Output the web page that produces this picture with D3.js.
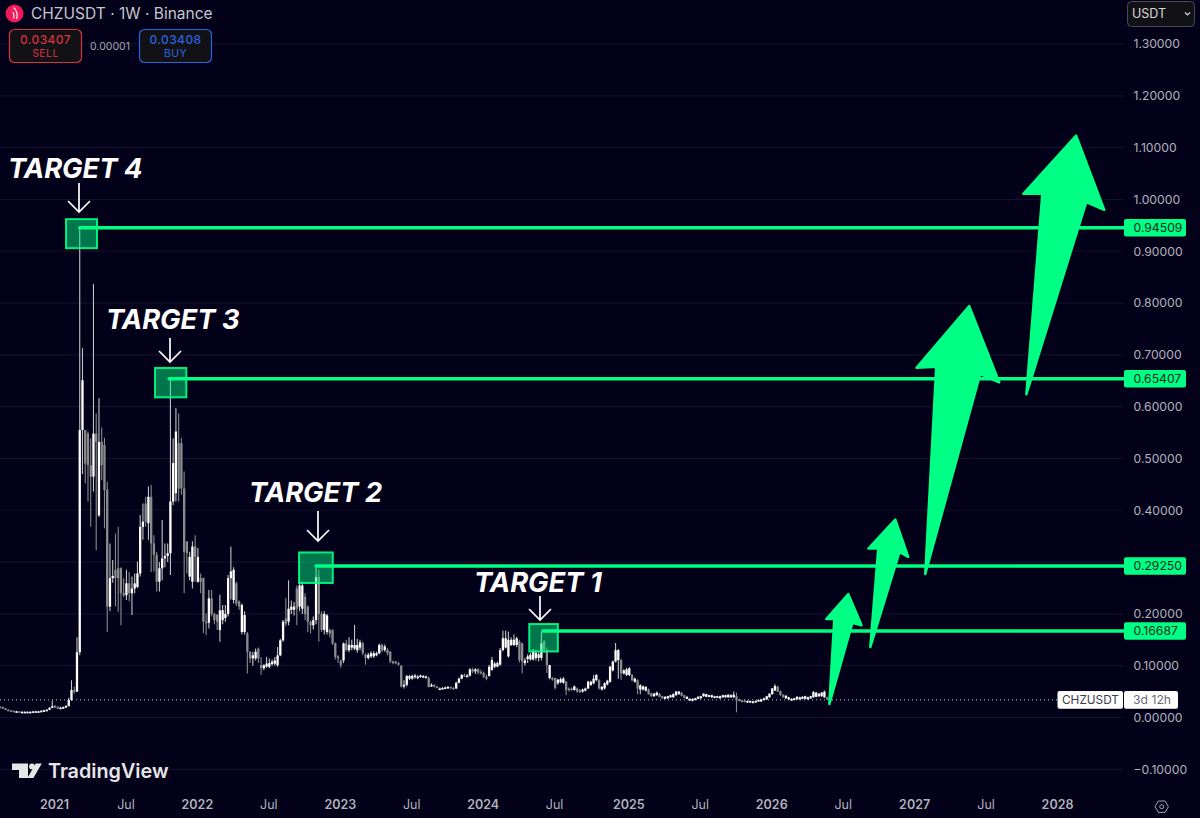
<!DOCTYPE html>
<html>
<head>
<meta charset="utf-8">
<title>CHZUSDT 1W</title>
<script src="https://cdnjs.cloudflare.com/ajax/libs/d3/7.8.5/d3.min.js"></script>
<style>
html,body{margin:0;padding:0;background:#03001a;overflow:hidden}
svg{display:block;font-family:Inter,"Noto Sans",sans-serif}
</style>
</head>
<body>
<svg id="chart" width="1200" height="818"></svg>
<script>
// Weekly CHZ/USDT candles, one value per week starting at firstWeek.
const firstWeek = "2020-08-17";
const opens = [
.021,.020,.018,.015,.014,.013,.012,.012,.011,.011,
.011,.011,.011,.012,.012,.012,.013,.014,.015,.019,
.022,.020,.019,.019,.020,.022,.034,.053,.050,.126,
.555,.555,.548,.487,.465,.548,.390,.532,.526,.440,
.214,.269,.285,.288,.288,.240,.236,.259,.240,.249,
.252,.278,.368,.413,.375,.426,.336,.314,.262,.288,
.307,.312,.317,.417,.433,.530,.529,.442,.340,.272,
.262,.330,.262,.269,.269,.185,.183,.230,.200,.198,
.169,.188,.192,.200,.269,.227,.259,.224,.165,.165,
.162,.127,.114,.114,.133,.101,.095,.098,.098,.103,
.104,.101,.120,.149,.191,.185,.208,.208,.249,.214,
.210,.233,.214,.185,.178,.188,.271,.200,.169,.165,
.169,.169,.143,.118,.110,.110,.143,.130,.135,.133,
.130,.135,.143,.121,.115,.118,.118,.120,.124,.140,
.130,.130,.127,.108,.108,.105,.100,.060,.063,.075,
.075,.078,.077,.079,.079,.078,.076,.061,.063,.060,
.056,.056,.056,.058,.059,.057,.056,.067,.075,.082,
.079,.081,.093,.089,.093,.088,.086,.079,.080,.092,
.098,.098,.102,.130,.135,.118,.140,.140,.140,.147,
.143,.105,.113,.112,.112,.115,.115,.115,.147,.130,
.076,.076,.076,.066,.068,.067,.069,.056,.056,.053,
.056,.053,.050,.052,.056,.063,.066,.072,.072,.054,
.056,.064,.069,.091,.108,.111,.111,.085,.082,.082,
.082,.069,.072,.054,.054,.052,.054,.047,.041,.043,
.046,.041,.036,.037,.039,.039,.043,.045,.048,.043,
.036,.033,.032,.034,.036,.037,.041,.040,.040,.039,
.038,.039,.037,.039,.039,.039,.039,.039,.041,.035,
.033,.033,.029,.029,.028,.030,.031,.031,.034,.035,
.039,.045,.052,.060,.051,.044,.037,.035,.033,.034,
.035,.035,.036,.036,.035,.037,.039,.040,.041,.041,
.039,.039,.035];
const closes = [
.020,.018,.015,.014,.013,.012,.012,.011,.011,.011,
.011,.011,.012,.012,.012,.013,.014,.015,.019,.022,
.020,.019,.019,.020,.022,.034,.053,.050,.126,.555,
.651,.490,.487,.465,.548,.532,.532,.487,.439,.214,
.269,.273,.269,.269,.240,.236,.259,.240,.249,.259,
.278,.368,.378,.378,.426,.336,.314,.262,.288,.307,
.312,.317,.417,.491,.552,.442,.442,.320,.317,.310,
.330,.310,.310,.262,.185,.183,.230,.200,.188,.185,
.207,.207,.200,.269,.282,.285,.220,.214,.217,.198,
.127,.114,.120,.127,.114,.095,.101,.104,.105,.108,
.110,.120,.149,.185,.181,.210,.214,.214,.210,.255,
.255,.200,.185,.178,.188,.271,.200,.169,.200,.197,
.162,.143,.117,.114,.101,.143,.130,.140,.140,.140,
.140,.145,.124,.115,.121,.124,.124,.124,.140,.130,
.137,.124,.108,.105,.105,.102,.060,.063,.080,.080,
.080,.081,.079,.081,.080,.079,.059,.063,.060,.057,
.056,.057,.058,.059,.057,.056,.067,.075,.082,.081,
.081,.093,.089,.093,.087,.087,.079,.075,.098,.111,
.104,.105,.130,.153,.153,.150,.150,.150,.153,.111,
.108,.110,.118,.121,.127,.125,.122,.143,.130,.101,
.101,.073,.057,.073,.074,.075,.053,.053,.053,.060,
.050,.049,.054,.056,.069,.069,.075,.082,.056,.059,
.066,.071,.098,.108,.130,.130,.085,.091,.093,.095,
.072,.075,.056,.062,.060,.059,.045,.041,.046,.048,
.040,.037,.040,.041,.043,.045,.050,.050,.042,.038,
.040,.036,.036,.037,.040,.041,.046,.045,.043,.043,
.041,.041,.041,.043,.043,.044,.043,.044,.033,.032,
.030,.030,.032,.032,.031,.032,.034,.035,.037,.041,
.046,.056,.061,.050,.043,.039,.042,.039,.036,.037,
.040,.039,.040,.041,.039,.041,.049,.048,.046,.048,
.050,.035,.034];
const highs = [
.022,.021,.018,.016,.014,.013,.013,.012,.012,.012,
.012,.012,.012,.013,.013,.014,.015,.016,.020,.033,
.024,.022,.021,.021,.024,.038,.072,.060,.155,.945,
.713,.555,.552,.539,.837,.587,.616,.560,.540,.455,
.336,.304,.355,.368,.290,.269,.285,.281,.272,.278,
.301,.391,.413,.426,.446,.449,.352,.320,.300,.381,
.336,.336,.654,.539,.597,.587,.540,.475,.340,.320,
.340,.352,.327,.278,.270,.201,.246,.246,.202,.200,
.237,.217,.217,.275,.330,.290,.262,.226,.220,.205,
.165,.128,.127,.133,.135,.117,.103,.117,.114,.112,
.117,.136,.152,.188,.230,.265,.226,.223,.255,.270,
.262,.240,.216,.187,.195,.2925,.285,.205,.205,.200,
.172,.170,.145,.120,.112,.145,.150,.155,.150,.179,
.152,.150,.146,.124,.125,.128,.128,.127,.143,.143,
.141,.134,.128,.110,.109,.107,.101,.072,.082,.082,
.083,.084,.082,.083,.082,.081,.079,.066,.064,.061,
.058,.059,.060,.061,.060,.059,.069,.077,.084,.085,
.084,.095,.096,.095,.095,.092,.089,.083,.102,.117,
.107,.108,.134,.168,.168,.166,.155,.160,.156,.150,
.145,.115,.122,.125,.132,.130,.126,.166,.150,.135,
.102,.078,.077,.075,.077,.078,.071,.058,.058,.062,
.058,.055,.056,.058,.071,.071,.082,.084,.074,.061,
.068,.073,.100,.110,.144,.132,.113,.093,.096,.097,
.084,.077,.074,.064,.062,.061,.056,.048,.048,.050,
.047,.042,.041,.042,.044,.047,.051,.051,.049,.044,
.041,.037,.037,.038,.041,.042,.047,.046,.044,.044,
.042,.042,.042,.044,.044,.045,.045,.050,.048,.036,
.034,.034,.033,.033,.032,.033,.035,.036,.038,.042,
.047,.057,.064,.061,.052,.045,.043,.040,.037,.038,
.041,.040,.041,.042,.040,.042,.051,.049,.047,.049,
.052,.040,.036];
const lows = [
.019,.017,.014,.013,.012,.011,.011,.011,.010,.010,
.010,.011,.011,.011,.011,.012,.012,.013,.014,.018,
.019,.018,.018,.018,.019,.021,.032,.046,.049,.120,
.470,.452,.417,.368,.436,.323,.387,.458,.365,.165,
.205,.260,.214,.204,.178,.232,.227,.224,.198,.240,
.250,.272,.343,.368,.343,.281,.282,.243,.243,.265,
.290,.300,.275,.410,.417,.417,.430,.240,.278,.265,
.249,.262,.260,.240,.163,.159,.172,.195,.180,.169,
.146,.180,.185,.195,.228,.220,.215,.208,.160,.160,
.085,.105,.100,.110,.105,.082,.091,.096,.095,.100,
.100,.098,.118,.146,.176,.178,.200,.197,.178,.205,
.200,.188,.165,.162,.170,.180,.146,.165,.160,.160,
.155,.140,.112,.105,.096,.105,.128,.126,.130,.130,
.125,.130,.120,.102,.112,.115,.115,.118,.122,.126,
.127,.120,.105,.103,.103,.100,.058,.056,.060,.072,
.073,.075,.074,.077,.077,.076,.058,.059,.058,.056,
.054,.055,.055,.056,.056,.054,.055,.066,.074,.078,
.077,.079,.086,.084,.083,.083,.076,.072,.079,.090,
.095,.097,.100,.128,.133,.116,.138,.138,.136,.106,
.085,.100,.105,.110,.110,.110,.108,.110,.125,.086,
.074,.071,.054,.063,.066,.065,.043,.050,.051,.052,
.048,.047,.048,.050,.055,.061,.064,.070,.054,.052,
.054,.062,.067,.089,.106,.075,.073,.083,.080,.080,
.070,.067,.045,.045,.052,.050,.044,.040,.040,.042,
.039,.036,.035,.036,.038,.038,.042,.044,.041,.037,
.035,.032,.031,.033,.035,.036,.040,.039,.039,.038,
.037,.038,.036,.038,.038,.038,.038,.038,.010,.031,
.029,.029,.028,.028,.027,.029,.030,.030,.033,.034,
.038,.044,.051,.049,.042,.038,.036,.034,.032,.033,
.034,.034,.035,.035,.034,.036,.038,.039,.040,.040,
.038,.034,.032];

// Grid levels and the axis labels; 0.3 sits behind the 0.29250 tag, so it has no label.
const gridLevels = [-0.1,0,0.1,0.2,0.3,0.4,0.5,0.6,0.7,0.8,0.9,1.0,1.1,1.2,1.3];
const priceTicks = [-0.1,0,0.1,0.2,0.4,0.5,0.6,0.7,0.8,0.9,1.0,1.1,1.2,1.3];
const timeTicks = ["2021-01-04","2021-07-05","2022-01-03","2022-07-04","2023-01-02","2023-07-03",
  "2024-01-01","2024-07-01","2025-01-06","2025-07-07","2026-01-05","2026-07-06","2027-01-04","2027-07-05","2028-01-03"];

// Target levels, lowest first, and the week each one is anchored at.
const targetNames = ["TARGET 1","TARGET 2","TARGET 3","TARGET 4"];
const targetPrices = [0.16687,0.29250,0.65407,0.94509];
const targetWeeks = [197.5,115,61.5,29];
const lastPrice = 0.03407;

// Projected upward arrows, vertices as [week index, price], tail first and clockwise.
const arrowOne   = [[301.8,.026],[303.6,.190],[300.7,.190],[308.7,.238],[313.5,.178],[310.2,.183]];
const arrowTwo   = [[316.7,.136],[319.6,.326],[316,.326],[325.8,.382],[330.5,.310],[327.3,.319]];
const arrowThree = [[336.7,.277],[340.7,.677],[333.5,.675],[352.7,.794],[363.6,.647],[356.7,.663]];
const arrowFour  = [[373.5,.624],[379.3,1.011],[372.4,1.011],[391.6,1.123],[401.8,.980],[395.3,.995]];

// Layout of each target's square, caption and pointer, in screen offsets.
const boxLayout = [
  {dx:-13.5,dy:-7,w:28.6,h:27.4},{dx:-17,dy:-13.5,w:33.7,h:30.5},
  {dx:-14,dy:-10.7,w:31.3,h:29.4},{dx:-13.7,dy:-8.7,w:31,h:29}];
const captionLayout = [{x:474,y:592},{x:249,y:502},{x:106,y:329},{x:8,y:178}];
const pointerLayout = [{x:540,y0:596,y1:620},{x:318,y0:511,y1:541},{x:170,y0:338,y1:362},{x:79,y0:183,y1:212}];

const GREEN = "#00ff85", BG = "#03001a", GRID = "#12102a", AXIS_TEXT = "#b2b3ba";
const plotRight = 1123;

const svg = d3.select("#chart");
svg.append("rect").attr("width",1200).attr("height",818).attr("fill",BG);

const parse = d3.utcParse("%Y-%m-%d");
const xTime = d3.scaleUtc()
  .domain([parse("2021-01-04"),parse("2028-01-03")]).range([55,1058]);
const xWeek = i => xTime(d3.utcHour.offset(parse(firstWeek), i*168));
const y = d3.scaleLinear().domain([0,1.3]).range([717.5,44]);

// Horizontal grid.
svg.append("g").selectAll("line").data(gridLevels).join("line")
  .attr("x1",0).attr("x2",plotRight)
  .attr("y1",d=>y(d)).attr("y2",d=>y(d))
  .attr("stroke",GRID).attr("stroke-width",1.2);

// Price axis.
const yAxis = svg.append("g").attr("transform",`translate(${plotRight},0)`)
  .call(d3.axisRight(y).tickValues(priceTicks).tickSize(0).tickPadding(10.5).tickFormat(d3.format(".5f")));
yAxis.select(".domain").remove();
yAxis.selectAll("text").attr("fill",AXIS_TEXT).attr("font-size",12.2).attr("font-family","Inter");

// Time axis.
const xAxis = svg.append("g").attr("transform","translate(-1,797)")
  .call(d3.axisBottom(xTime).tickValues(timeTicks.map(parse)).tickSize(0).tickPadding(3)
    .tickFormat(d=>d.getUTCMonth()===0 ? d.getUTCFullYear() : "Jul"));
xAxis.select(".domain").remove();
xAxis.selectAll("text").attr("fill",AXIS_TEXT).attr("font-size",12.5).attr("font-family","Inter")
  .attr("font-weight",d=>d.getUTCMonth()===0?600:400);

// Last price guide.
svg.append("line").attr("x1",0).attr("x2",1057).attr("y1",y(lastPrice)).attr("y2",y(lastPrice))
  .attr("stroke","#c8c8c8").attr("stroke-width",1).attr("stroke-dasharray","1 3");

// Candles.
const candles = svg.append("g").selectAll("g").data(d3.range(closes.length)).join("g");
const isUp = i => closes[i] >= opens[i];
candles.append("line")
  .attr("x1",i=>xWeek(i)).attr("x2",i=>xWeek(i))
  .attr("y1",i=>y(highs[i])).attr("y2",i=>y(lows[i]))
  .attr("stroke",i=>isUp(i)?"#c4c4c4":"#8a8a8a").attr("stroke-width",1.1);
candles.append("rect")
  .attr("x",i=>xWeek(i)-1.15).attr("width",2.3)
  .attr("y",i=>y(Math.max(opens[i],closes[i])))
  .attr("height",i=>Math.max(1.6,Math.abs(y(opens[i])-y(closes[i]))))
  .attr("fill",i=>isUp(i)?"#ffffff":"#8c8c8c");

// Target levels: square, line, pointer and caption.
const targets = svg.append("g").selectAll("g").data(d3.range(targetPrices.length)).join("g");
targets.append("rect")
  .attr("x",i=>xWeek(targetWeeks[i])+boxLayout[i].dx)
  .attr("y",i=>y(targetPrices[i])+boxLayout[i].dy)
  .attr("width",i=>boxLayout[i].w).attr("height",i=>boxLayout[i].h)
  .attr("fill",GREEN).attr("fill-opacity",0.46)
  .attr("stroke",GREEN).attr("stroke-opacity",0.92).attr("stroke-width",2);
targets.append("line")
  .attr("x1",i=>xWeek(targetWeeks[i])).attr("x2",plotRight+1)
  .attr("y1",i=>y(targetPrices[i])).attr("y2",i=>y(targetPrices[i]))
  .attr("stroke",GREEN).attr("stroke-width",3.5).attr("stroke-linecap","round");
targets.append("path")
  .attr("d",i=>{const p=pointerLayout[i];
    return d3.line()([[p.x,p.y0],[p.x,p.y1]])+d3.line()([[p.x-11,p.y1-11],[p.x,p.y1],[p.x+11,p.y1-11]]);})
  .attr("fill","none").attr("stroke","#ffffff").attr("stroke-width",1.7);
targets.append("text")
  .attr("x",i=>captionLayout[i].x).attr("y",i=>captionLayout[i].y)
  .attr("fill","#ffffff").attr("font-size",27.3).attr("font-weight",700).attr("font-style","italic")
  .attr("font-family","Inter").text(i=>targetNames[i]);

// Price tags for the target levels.
const tags = svg.append("g").selectAll("g").data(targetPrices).join("g");
tags.append("rect").attr("x",1124).attr("width",62).attr("height",17.5).attr("rx",2)
  .attr("y",d=>y(d)-8.75).attr("fill",GREEN);
tags.append("text").attr("x",1133.5).attr("y",d=>y(d)).attr("dy","0.35em")
  .attr("font-size",12.2).attr("font-family","Inter").attr("fill","#0c2a20")
  .text(d=>d3.format(".5f")(d));

// Upward arrows.
svg.append("g").selectAll("path").data([arrowOne,arrowTwo,arrowThree,arrowFour]).join("path")
  .attr("d",d=>d3.line().x(v=>xWeek(v[0])).y(v=>y(v[1])).curve(d3.curveLinearClosed)(d))
  .attr("fill",GREEN).attr("stroke",GREEN).attr("stroke-width",2.5).attr("stroke-linejoin","round");

// Symbol and countdown tag on the price scale.
const ySym = y(lastPrice);
svg.append("rect").attr("x",1057.5).attr("y",ySym-8.8).attr("width",65.5).attr("height",17.6).attr("rx",2).attr("fill","#ffffff");
svg.append("rect").attr("x",1124).attr("y",ySym-8.8).attr("width",54).attr("height",17.6).attr("rx",2).attr("fill","#ffffff");
svg.append("text").attr("x",1062).attr("y",ySym).attr("dy","0.35em").attr("font-size",11.8).attr("font-family","Inter")
  .attr("fill","#3c3c44").text("CHZUSDT");
svg.append("text").attr("x",1133).attr("y",ySym).attr("dy","0.35em").attr("font-size",12.2).attr("font-family","Inter")
  .attr("fill","#6a6a72").text("3d 12h");

// Header: coin badge and title.
svg.append("circle").attr("cx",14.5).attr("cy",13.5).attr("r",9).attr("fill","#f2195a");
svg.append("path").attr("d","M13.5 7.5 C17 10 18 15 16.5 19 M13 12 C14 14.5 14.5 16.5 13.5 18.5")
  .attr("fill","none").attr("stroke","#ffe4ec").attr("stroke-width",1.3);
svg.append("text").attr("x",31).attr("y",13.5).attr("dy","0.35em").attr("font-size",15.5)
  .attr("font-family","Inter").attr("fill","#c6c6cc").text("CHZUSDT · 1W · Binance");

// Header: sell and buy buttons.
const quoteButton = (x,color,price,label)=>{
  svg.append("rect").attr("x",x).attr("y",29.5).attr("width",72).attr("height",33).attr("rx",5)
    .attr("fill","#121216").attr("stroke",color).attr("stroke-width",1.2);
  svg.append("text").attr("x",x+36).attr("y",39.5).attr("dy","0.35em").attr("text-anchor","middle")
    .attr("font-size",12).attr("font-family","Inter").attr("font-weight",500).style("letter-spacing","0.4px").attr("fill",color).text(price);
  svg.append("text").attr("x",x+36).attr("y",53).attr("dy","0.35em").attr("text-anchor","middle")
    .attr("font-size",10.5).attr("font-family","Inter").style("letter-spacing","0.4px").attr("fill",color).text(label);
};
quoteButton(9.5,"#d5333f","0.03407","SELL");
quoteButton(139.5,"#2a62e0","0.03408","BUY");
svg.append("text").attr("x",110).attr("y",46).attr("dy","0.35em").attr("text-anchor","middle")
  .attr("font-size",10.5).attr("font-family","Inter").attr("fill","#a8a8b0").text("0.00001");

// Currency selector.
svg.append("rect").attr("x",1127.5).attr("y",1.5).attr("width",67).attr("height",25).attr("rx",4)
  .attr("fill","#121216").attr("stroke","#4a4a50");
svg.append("text").attr("x",1132).attr("y",14).attr("dy","0.35em").attr("font-size",12.5)
  .attr("font-family","Inter").attr("fill","#d8d8dc").text("USDT");
svg.append("path").attr("d","M1185 12.5 l2.5 2.5 l2.5 -2.5").attr("fill","none").attr("stroke","#d8d8dc").attr("stroke-width",1.2);

// Wordmark.
const mark = svg.append("g").attr("fill","#e6e6e6");
mark.append("path").attr("d","M12 763.5 H28 V778 H19 V770 H12 Z");
mark.append("circle").attr("cx",32).attr("cy",766.4).attr("r",2.9);
mark.append("path").attr("d","M35.7 763.5 H41.8 L33.4 778 H27.4 Z");
mark.append("text").attr("x",48).attr("y",778).attr("font-size",19.8).attr("font-weight",600)
  .attr("font-family","Inter").text("TradingView");

// Settings glyph.
const gear = svg.append("g").attr("fill","none").attr("stroke","#a8a8b0").attr("stroke-width",1);
gear.append("path").attr("d","M1155 806.7 L1158.4 801 H1165 L1168.4 806.7 L1165 812.4 H1158.4 Z");
gear.append("circle").attr("cx",1161.7).attr("cy",806.7).attr("r",2);
</script>
</body>
</html>
